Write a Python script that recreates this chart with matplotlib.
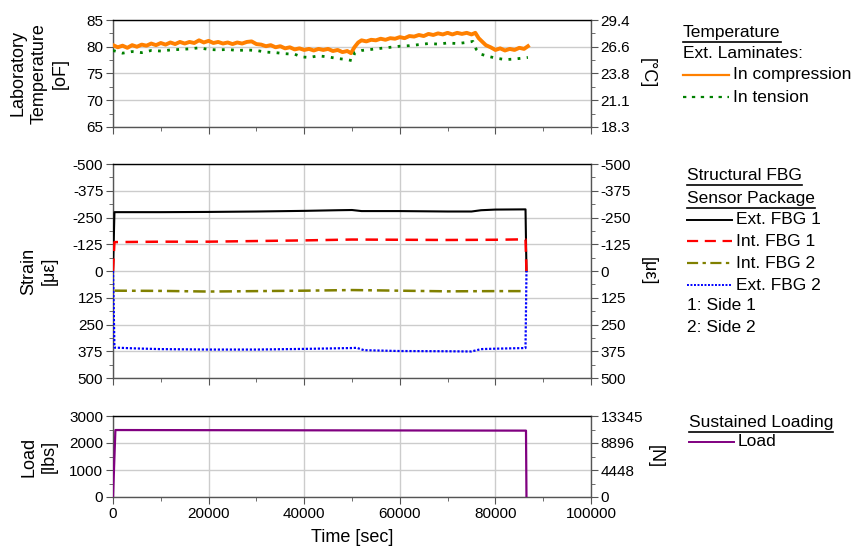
import matplotlib
matplotlib.use("Agg")
import matplotlib.pyplot as plt
from matplotlib.lines import Line2D
from matplotlib.ticker import MultipleLocator

plt.rcParams['font.family'] = ['Liberation Sans', 'DejaVu Sans']
plt.rcParams['font.size'] = 11
plt.rcParams['axes.unicode_minus'] = False

# ---------------- data ----------------
temp_comp_t = [0, 1000, 2000, 3000, 4000, 5000, 6000, 7000, 8000, 9000, 10000, 11000, 12000, 13000,
               14000, 15000, 16000, 17000, 18000, 19000, 20000, 21000, 22000, 23000, 24000, 25000,
               26000, 27000, 28000, 29000, 30000, 31000, 32000, 33000, 34000, 35000, 36000, 37000,
               38000, 39000, 40000, 41000, 42000, 43000, 44000, 45000, 46000, 47000, 48000, 49000,
               49800, 50500, 51300, 52000, 53000, 54000, 55000, 56000, 57000, 58000, 59000, 60000,
               61000, 62000, 63000, 64000, 65000, 66000, 67000, 68000, 69000, 70000, 71000, 72000,
               73000, 74000, 75000, 75800, 76500, 77300, 78000, 79000, 80000, 81000, 82000, 83000,
               84000, 85000, 86000, 86800]
temp_comp = [80.3, 79.9, 80.2, 79.8, 80.3, 80.0, 80.4, 80.2, 80.6, 80.3, 80.7, 80.4, 80.8, 80.5,
             80.9, 80.6, 80.9, 80.7, 81.2, 80.8, 81.1, 80.7, 80.9, 80.6, 80.8, 80.5,
             80.8, 80.6, 80.9, 81.0, 80.5, 80.4, 80.1, 80.3, 79.9, 80.1, 79.7, 79.9,
             79.5, 79.7, 79.4, 79.6, 79.3, 79.6, 79.4, 79.6, 79.2, 79.4, 79.0, 79.2,
             78.8, 79.9, 80.8, 81.2, 81.0, 81.3, 81.2, 81.5, 81.3, 81.6, 81.5, 81.8,
             81.6, 82.0, 81.9, 82.2, 82.0, 82.4, 82.2, 82.5, 82.3, 82.6, 82.3, 82.6,
             82.4, 82.6, 82.3, 82.6, 81.6, 80.9, 80.3, 79.9, 79.4, 79.7, 79.3, 79.6,
             79.4, 79.8, 79.6, 80.1]

temp_tens_t = [0, 2000, 4000, 6000, 8000, 10000, 12000, 14000, 16000, 18000, 20000, 22000, 24000,
               26000, 28000, 30000, 32000, 34000, 36000, 38000, 39500, 41000, 43000, 45000, 47000,
               49000, 50000, 50600, 52000, 54000, 56000, 58000, 60000, 62000, 64000, 66000, 68000,
               70000, 72000, 74000, 75300, 76000, 77000, 78500, 80000, 82000, 84000, 86800]
temp_tens = [79.3, 78.8, 79.1, 78.9, 79.3, 79.2, 79.4, 79.5, 79.6, 79.8, 79.5, 79.4, 79.5,
             79.3, 79.4, 79.3, 79.0, 78.9, 78.7, 78.6, 78.1, 78.0, 78.3, 78.1, 77.8,
             77.6, 77.4, 78.9, 79.3, 79.5, 79.7, 79.9, 80.1, 80.2, 80.4, 80.6, 80.5,
             80.7, 80.6, 80.8, 81.0, 79.5, 78.6, 78.2, 77.9, 77.6, 77.7, 78.0]

temp_f_ticks = [65, 70, 75, 80, 85]
temp_c_labels = ['18.3', '21.1', '23.8', '26.6', '29.4']

ext1_t = [0, 300, 10000, 20000, 30000, 40000, 47000, 50000, 52000, 60000, 70000, 75000, 77000, 80000, 86300, 86500]
ext1 = [0, -275, -275, -276, -278, -281, -284, -285, -280, -280, -278, -278, -284, -287, -288, 0]

int1_t = [0, 300, 10000, 20000, 30000, 40000, 50000, 60000, 70000, 80000, 86300, 86500]
int1 = [0, -135, -137, -137, -140, -143, -147, -146, -145, -146, -148, 0]

int2_t = [300, 10000, 20000, 30000, 40000, 50000, 60000, 70000, 80000, 85500]
int2 = [92, 93, 96, 94, 92, 89, 92, 95, 94, 94]

ext2_t = [0, 300, 5000, 10000, 20000, 30000, 40000, 50000, 51000, 52500, 60000, 70000, 75000, 77000, 80000, 86300, 86500]
ext2 = [0, 358, 362, 365, 367, 367, 364, 360, 359, 370, 374, 375, 376, 365, 363, 360, 0]

strain_ticks = [-500, -375, -250, -125, 0, 125, 250, 375, 500]

load_t = [0, 500, 20000, 40000, 60000, 80000, 86400, 86500]
load = [0, 2480, 2475, 2470, 2465, 2460, 2458, 0]
load_ticks = [0, 1000, 2000, 3000]
load_n_labels = ['0', '4448', '8896', '13345']

x_ticks = [0, 20000, 40000, 60000, 80000, 100000]

# ---------------- figure ----------------
W, H = 851, 555
fig = plt.figure(figsize=(W / 100, H / 100), dpi=100)

def fr(x0, y0, x1, y1):
    return [x0 / W, 1 - y1 / H, (x1 - x0) / W, (y1 - y0) / H]

ax1 = fig.add_axes(fr(113, 20, 591, 127))
ax2 = fig.add_axes(fr(113, 164, 591, 378))
ax3 = fig.add_axes(fr(113, 416, 591, 497))

GRAY = '#555555'
GRID = '#cccccc'
LAB = 13
TICK = 11
LEG = 12.5

def style(ax, ylim, yt, ymin, show_x):
    ax.set_xlim(0, 100000)
    ax.set_ylim(*ylim)
    ax.set_xticks(x_ticks)
    ax.xaxis.set_minor_locator(MultipleLocator(10000))
    ax.set_yticks(yt)
    ax.yaxis.set_minor_locator(MultipleLocator(ymin))
    ax.grid(True, which='major', color=GRID, lw=1.0, zorder=0)
    ax.set_axisbelow(True)
    for s in ['left', 'bottom', 'right']:
        ax.spines[s].set_color(GRAY)
    ax.spines['top'].set_color('black')
    for s in ax.spines.values():
        s.set_linewidth(1.0)
    ax.tick_params(which='both', direction='out', colors=GRAY, labelcolor='black', labelsize=TICK, pad=2)
    ax.tick_params(which='major', length=5)
    ax.tick_params(which='minor', length=3)
    ax.tick_params(right=False, top=False)
    if not show_x:
        ax.tick_params(axis='x', labelbottom=False)

style(ax1, (65, 85), temp_f_ticks, 2.5, False)
style(ax2, (500, -500), strain_ticks, 62.5, False)
style(ax3, (0, 3000), load_ticks, 500, True)

def twin(ax, ticks, labels, label, minor, xpos):
    t = ax.twinx()
    t.set_ylim(ax.get_ylim())
    t.set_yticks(ticks)
    t.set_yticklabels(labels)
    t.yaxis.set_minor_locator(MultipleLocator(minor))
    t.tick_params(which='both', direction='out', colors=GRAY, labelcolor='black', labelsize=TICK, pad=2)
    t.tick_params(which='major', length=5)
    t.tick_params(which='minor', length=3)
    for s in t.spines.values():
        s.set_visible(False)
    t.set_ylabel(label, rotation=-90, fontsize=LAB, va='center', ha='center')
    t.yaxis.set_label_coords(xpos, 0.5)
    return t

t1 = twin(ax1, temp_f_ticks, temp_c_labels, '[°C]', 2.5, (647 - 113) / 478)
t2 = twin(ax2, strain_ticks, [str(v) for v in strain_ticks], '[με]', 62.5, (648 - 113) / 478)
t3 = twin(ax3, load_ticks, load_n_labels, '[N]', 500, (655 - 113) / 478)

C_OR = '#FF8000'
C_GR = '#008000'
C_OL = '#808000'
C_BL = '#0000FF'
C_PU = '#800080'
ls_red = (0, (5, 3))
ls_olive = (0, (5, 2, 1.5, 2))
ls_blue = (0, (1, 0.8))

ax1.plot(temp_comp_t, temp_comp, color=C_OR, lw=2.8, zorder=3)
ax1.plot(temp_tens_t, temp_tens, color=C_GR, lw=2.0, ls=(0, (1, 2.3)), zorder=3)

ax2.plot(ext1_t, ext1, color='black', lw=1.5, zorder=3)
ax2.plot(int1_t, int1, color='#FF0000', lw=1.8, ls=ls_red, zorder=3)
ax2.plot(int2_t, int2, color=C_OL, lw=1.8, ls=ls_olive, zorder=3)
ax2.plot(ext2_t, ext2, color=C_BL, lw=1.6, ls=ls_blue, zorder=3)

ax3.plot(load_t, load, color=C_PU, lw=1.6, zorder=3)

def ylab(ax, s, xpix):
    ax.set_ylabel(s, fontsize=LAB, linespacing=1.3, va='center', ha='center')
    ax.yaxis.set_label_coords((xpix - 113) / 478, 0.5)

ylab(ax1, 'Laboratory\nTemperature\n[oF]', 39)
ylab(ax2, 'Strain\n[με]', 39)
ylab(ax3, 'Load\n[lbs]', 39)
ax3.set_xlabel('Time [sec]', fontsize=LAB, labelpad=6)

# ---------------- legends (manual) ----------------
def fx(x):
    return x / W

def fy(y):
    return 1 - y / H

underline_items = []

def txt(x, y, s, underline=False):
    t = fig.text(fx(x), fy(y), s, fontsize=LEG, va='center', ha='left')
    if underline:
        underline_items.append((t, y))
    return t

def sample(x0, x1, y, **kw):
    fig.add_artist(Line2D([fx(x0), fx(x1)], [fy(y), fy(y)], transform=fig.transFigure, **kw))

txt(683, 32, 'Temperature', underline=True)
txt(683, 54, 'Ext. Laminates:')
sample(683, 729, 75, color=C_OR, lw=1.6)
txt(733, 75, 'In compression')
sample(683, 729, 97, color=C_GR, lw=1.6, ls=(0, (1.5, 2.5)))
txt(733, 97, 'In tension')

txt(687, 176, 'Structural FBG', underline=True)
txt(687, 198, 'Sensor Package', underline=True)
sample(687, 732, 220, color='black', lw=1.4)
txt(736, 220, 'Ext. FBG 1')
sample(687, 732, 241, color='#FF0000', lw=1.6, ls=ls_red)
txt(736, 241, 'Int. FBG 1')
sample(687, 732, 263, color=C_OL, lw=1.6, ls=ls_olive)
txt(736, 263, 'Int. FBG 2')
sample(687, 732, 285, color=C_BL, lw=1.4, ls=ls_blue)
txt(736, 285, 'Ext. FBG 2')
txt(687, 306, '1: Side 1')
txt(687, 328, '2: Side 2')

txt(689, 422, 'Sustained Loading', underline=True)
sample(689, 734, 442, color=C_PU, lw=1.4)
txt(738, 442, 'Load')

fig.canvas.draw()
r = fig.canvas.get_renderer()
for t, y in underline_items:
    bb = t.get_window_extent(renderer=r)
    yy = fy(y + 9.5)
    fig.add_artist(Line2D([bb.x0 / W, bb.x1 / W], [yy, yy], transform=fig.transFigure, color='black', lw=1.2))

fig.savefig('out.png', dpi=100)
